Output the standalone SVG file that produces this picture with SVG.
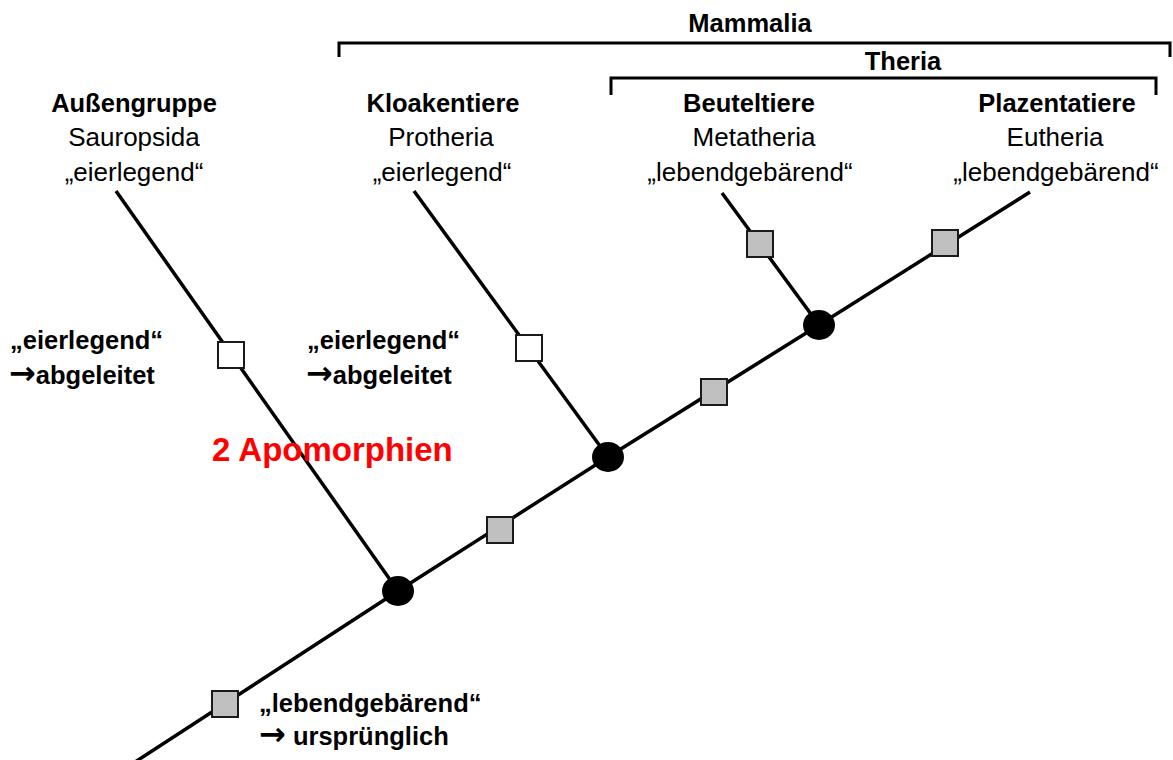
<svg xmlns="http://www.w3.org/2000/svg" width="1173" height="760" viewBox="0 0 1173 760">
<style>
text{font-family:"Liberation Sans",Arial,sans-serif;fill:#000;text-anchor:middle}
.b{font-weight:bold;font-size:25.5px}
.t{font-weight:bold;font-size:25.5px}
.r{font-size:26px}
.a{font-weight:bold;font-size:25.5px;text-anchor:start}
tspan.arr{font-family:"DejaVu Sans",sans-serif;font-weight:bold;font-size:32px}
.red{font-weight:bold;font-size:33px;fill:#ff0000;text-anchor:start}
.ln{fill:none;stroke:#000;stroke-width:3.5;stroke-linecap:butt}
.br{fill:none;stroke:#000;stroke-width:3}
.sq{stroke:#1a1a1a;stroke-width:2}
.g{fill:#c0c0c0}
.w{fill:#fff}
.nd{fill:#000}
</style>
<rect width="1173" height="760" fill="#fff"/>
<g id="brackets">
<path class="br" d="M339,57 V43 H1170 V57"/>
<text class="t" x="750" y="32">Mammalia</text>
<path class="br" d="M611,95 V78 H1156 V95"/>
<text class="t" x="903" y="70">Theria</text>
</g>
<g id="connectors">
<polyline class="ln" points="132,764 398,591 608,457 819,325 1030,192"/>
<line class="ln" x1="116" y1="191" x2="398" y2="591"/>
<line class="ln" x1="414" y1="191" x2="608" y2="457"/>
<line class="ln" x1="722" y1="193" x2="819" y2="325"/>
</g>
<g id="node-aussengruppe">
<text class="b" x="134" y="112">Außengruppe</text>
<text class="r" x="134" y="146">Sauropsida</text>
<text class="r" x="134" y="181">„eierlegend“</text>
</g>
<g id="node-kloakentiere">
<text class="b" x="443" y="112">Kloakentiere</text>
<text class="r" x="441" y="146">Protheria</text>
<text class="r" x="442" y="181">„eierlegend“</text>
</g>
<g id="node-beuteltiere">
<text class="b" x="749" y="112">Beuteltiere</text>
<text class="r" x="754" y="146">Metatheria</text>
<text class="r" x="750" y="181">„lebendgebärend“</text>
</g>
<g id="node-plazentatiere">
<text class="b" x="1057" y="112">Plazentatiere</text>
<text class="r" x="1055" y="146">Eutheria</text>
<text class="r" x="1056" y="181">„lebendgebärend“</text>
</g>
<g id="nodes">
<ellipse class="nd" cx="398" cy="591" rx="16" ry="15"/>
<ellipse class="nd" cx="608" cy="457" rx="16" ry="15"/>
<ellipse class="nd" cx="819" cy="325" rx="16" ry="15"/>
</g>
<g id="characters">
<rect class="sq w" x="218" y="342" width="26" height="26"/>
<rect class="sq w" x="516" y="335" width="26" height="26"/>
<rect class="sq g" x="747" y="231" width="26" height="26"/>
<rect class="sq g" x="212" y="691" width="26" height="26"/>
<rect class="sq g" x="487" y="517" width="26" height="26"/>
<rect class="sq g" x="701" y="379" width="26" height="26"/>
<rect class="sq g" x="932" y="230" width="26" height="26"/>
</g>
<g id="annotations">
<text class="a" x="10" y="349">„eierlegend“</text>
<text class="a" x="9" y="384"><tspan class="arr">→</tspan>abgeleitet</text>
<text class="a" x="307" y="349">„eierlegend“</text>
<text class="a" x="306" y="384"><tspan class="arr">→</tspan>abgeleitet</text>
<text class="red" x="212" y="461">2 Apomorphien</text>
<text class="a" x="259" y="712">„lebendgebärend“</text>
<text class="a" x="259" y="745"><tspan class="arr">→</tspan> ursprünglich</text>
</g>
</svg>
